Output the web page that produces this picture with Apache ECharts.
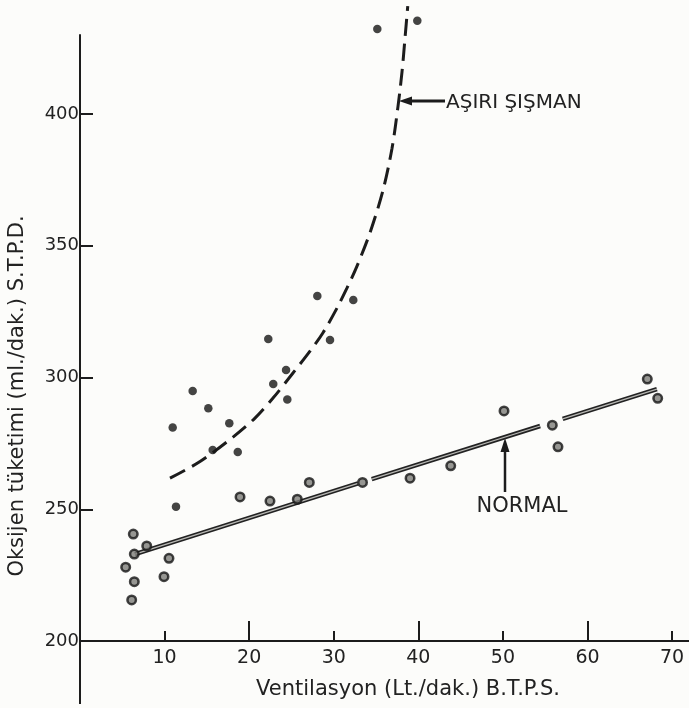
<!DOCTYPE html>
<html>
<head>
<meta charset="utf-8">
<script src="https://cdn.jsdelivr.net/npm/echarts@6/dist/echarts.min.js"></script>
<style>
  html, body { margin: 0; padding: 0; background: #fcfcfa; }
  #chart { width: 689px; height: 708px; }
</style>
</head>
<body>
<div id="chart"></div>
<script>
// Eksen etiketleri
const xTickLabels = [10, 20, 30, 40, 50, 60, 70];
const xMinorTicks = [10, 30, 50, 70];
const xMajorTicks = [20, 40, 60];
const yTickLabels = [200, 250, 300, 350, 400];
const yTicks = [250, 300, 350, 400];

// Aşırı şişman grup: ventilasyon (Lt/dak) ve oksijen tüketimi (ml/dak)
const obeseVent = [13.32, 15.17, 10.96, 15.69, 11.35, 28.06, 32.31, 22.26, 29.56, 24.36, 22.85, 24.51, 17.65, 18.65, 35.15, 39.88];
const obeseO2   = [294.9, 288.3, 281.0, 272.5, 251.0, 330.9, 329.4, 314.6, 314.2, 302.9, 297.5, 291.7, 282.6, 271.7, 432.3, 435.4];

// Normal grup
const normalVent = [6.30, 7.89, 6.42, 10.52, 5.40, 6.42, 9.93, 6.11, 18.92, 22.46, 25.69, 27.11, 33.40, 39.02, 43.83, 50.13, 55.84, 56.51, 67.07, 68.30];
const normalO2   = [240.6, 236.1, 233.0, 231.4, 228.0, 222.5, 224.4, 215.6, 254.7, 253.1, 253.8, 260.2, 260.2, 261.8, 266.5, 287.3, 281.9, 273.7, 299.4, 292.1];

// Aşırı şişman grup için çizilen kesikli eğri
const obeseCurveVent = [10.64, 14.19, 18.09, 20.69, 22.82, 25.18, 27.19, 28.73, 30.39, 31.57, 32.71, 34.29, 35.82, 36.89, 37.60, 38.07, 38.43, 38.75];
const obeseCurveO2   = [261.8, 268.1, 277.4, 284.6, 292.2, 301.7, 310.0, 317.0, 326.4, 334.0, 342.0, 355.0, 371.0, 387.0, 403.0, 416.0, 429.0, 441.0];

// Normal grup regresyon doğrusu (noktalarda kesintili, üç parça)
const normalLineVent = [[6.50, 32.87], [34.49, 54.40], [57.07, 68.21]];
const normalLineO2   = [[233.0, 259.8], [261.4, 281.6], [284.3, 295.6]];

const FONT = '"DejaVu Sans", "Liberation Sans", sans-serif';
const INK = '#1c1c1c';

const zip = (a, b) => a.map((v, i) => [v, b[i]]);

const chart = echarts.init(document.getElementById('chart'), null, { renderer: 'canvas' });

const normalLineSeries = [];
normalLineVent.forEach((seg, i) => {
  const data = zip(seg, normalLineO2[i]);
  normalLineSeries.push({
    type: 'line', data: data, showSymbol: false, clip: false, z: 3,
    lineStyle: { color: '#222', width: 4.5, cap: 'butt' }
  });
  normalLineSeries.push({
    type: 'line', data: data, showSymbol: false, clip: false, z: 4,
    lineStyle: { color: '#b8b8b4', width: 1.3, cap: 'butt' }
  });
});

const option = {
  backgroundColor: '#fcfcfa',
  animation: false,
  grid: { left: 80, right: 0, top: 35, bottom: 67, containLabel: false },
  xAxis: [
    {
      type: 'value', min: 0, max: 72, position: 'bottom',
      axisLine: { show: true, lineStyle: { color: INK, width: 2 } },
      axisTick: { show: true, inside: true, length: 10, customValues: xMinorTicks, lineStyle: { color: INK, width: 2 } },
      axisLabel: { customValues: xTickLabels, margin: 8, fontSize: 19, color: '#222', fontFamily: FONT },
      splitLine: { show: false }
    },
    {
      type: 'value', min: 0, max: 72, position: 'bottom',
      axisLine: { show: false },
      axisTick: { show: true, inside: true, length: 20, customValues: xMajorTicks, lineStyle: { color: INK, width: 2 } },
      axisLabel: { show: false },
      splitLine: { show: false }
    }
  ],
  yAxis: {
    type: 'value', min: 200, max: 430,
    axisLine: { show: true, lineStyle: { color: INK, width: 2 } },
    axisTick: { show: true, inside: true, length: 13, customValues: yTicks, lineStyle: { color: INK, width: 2 } },
    axisLabel: { customValues: yTickLabels, margin: 1, fontSize: 18, color: '#222', fontFamily: FONT },
    splitLine: { show: false }
  },
  series: [
    {
      name: 'AŞIRI ŞIŞMAN', type: 'line', data: zip(obeseCurveVent, obeseCurveO2),
      smooth: 0.3, showSymbol: false, clip: false, z: 3,
      lineStyle: { color: INK, width: 3, type: [17, 8] }
    },
    ...normalLineSeries,
    {
      name: 'AŞIRI ŞIŞMAN nokta', type: 'scatter', data: zip(obeseVent, obeseO2),
      symbol: 'circle', symbolSize: 8.5, clip: false, z: 5,
      itemStyle: { color: '#151515' }
    },
    {
      name: 'NORMAL nokta', type: 'scatter', data: zip(normalVent, normalO2),
      symbol: 'circle', symbolSize: 8.5, clip: false, z: 5,
      itemStyle: { color: '#7c7c78', borderColor: '#151515', borderWidth: 2.5 }
    }
  ]
};

chart.setOption(option);

// Y ekseninin x ekseni altına uzanan kısmı, eksen başlıkları ve etiket okları
const origin = chart.convertToPixel({ xAxisIndex: 0, yAxisIndex: 0 }, [0, 200]);
chart.setOption({
  graphic: [
    { type: 'line', shape: { x1: origin[0], y1: origin[1], x2: origin[0], y2: 704 }, style: { stroke: INK, lineWidth: 2 } },
    {
      type: 'text', x: 18, y: 396, rotation: Math.PI / 2,
      style: { text: 'Oksijen tüketimi (ml./dak.) S.T.P.D.', font: '21px ' + FONT, fill: '#222', align: 'center', verticalAlign: 'middle' }
    },
    {
      type: 'text', x: 408, y: 690,
      style: { text: 'Ventilasyon (Lt./dak.) B.T.P.S.', font: '21px ' + FONT, fill: '#222', align: 'center', verticalAlign: 'middle' }
    },
    // AŞIRI ŞIŞMAN oku
    { type: 'line', shape: { x1: 408, y1: 101, x2: 445, y2: 101 }, style: { stroke: INK, lineWidth: 3 } },
    { type: 'polygon', shape: { points: [[399, 101], [412, 96.5], [412, 105.5]] }, style: { fill: INK } },
    {
      type: 'text', x: 446, y: 103,
      style: { text: 'AŞIRI ŞIŞMAN', font: '20px ' + FONT, fill: '#222', align: 'left', verticalAlign: 'middle' }
    },
    // NORMAL oku
    { type: 'line', shape: { x1: 505, y1: 450, x2: 505, y2: 492 }, style: { stroke: INK, lineWidth: 2.5 } },
    { type: 'polygon', shape: { points: [[505, 438], [500.5, 452], [509.5, 452]] }, style: { fill: INK } },
    {
      type: 'text', x: 522, y: 507,
      style: { text: 'NORMAL', font: '21px ' + FONT, fill: '#222', align: 'center', verticalAlign: 'middle' }
    }
  ]
});
</script>
</body>
</html>
